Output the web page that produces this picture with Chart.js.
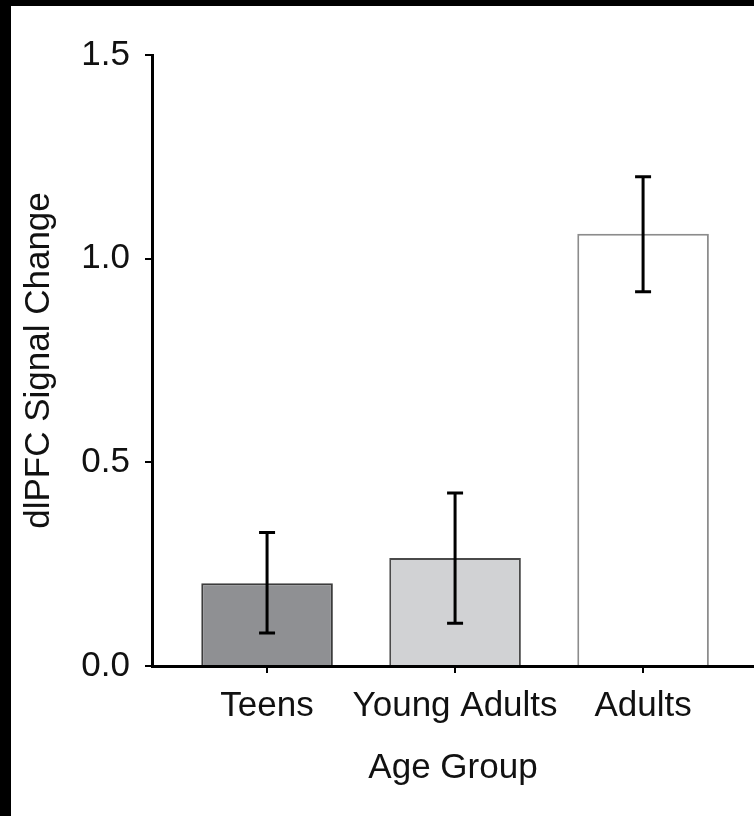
<!DOCTYPE html>
<html>
<head>
<meta charset="utf-8">
<script src="https://cdn.jsdelivr.net/npm/chart.js@4.4.1/dist/chart.umd.min.js"></script>
<style>
  html, body { margin: 0; padding: 0; background: #000; }
  body { width: 754px; height: 816px; position: relative; overflow: hidden; }
  #chart { position: absolute; left: 11px; top: 6px; background: #fff; }
</style>
</head>
<body>
<canvas id="chart" width="743" height="810"></canvas>
<script>
    // data
    const categories = ['Teens', 'Young Adults', 'Adults'];
    const meanValues = [0.203, 0.265, 1.061];
    const errLow = [0.081, 0.105, 0.919];
    const errHigh = [0.328, 0.425, 1.201];
    const yTicks = [0, 0.5, 1.0, 1.5];

    const FONT = '"Liberation Sans Narrow", "Arial Narrow", "Liberation Sans", Arial, sans-serif';
    Chart.defaults.font.family = FONT;
    Chart.defaults.font.size = 35;
    Chart.defaults.color = '#111';

    // Error bars drawn from the arrays through the scales
    const errorBars = {
      id: 'errorBars',
      afterDatasetsDraw(chart) {
        const ctx = chart.ctx;
        const xs = chart.scales.x, ys = chart.scales.y;
        ctx.save();
        ctx.strokeStyle = '#000';
        ctx.lineWidth = 3;
        categories.forEach((c, i) => {
          const x = xs.getPixelForValue(i + 1);
          const lo = ys.getPixelForValue(errLow[i]);
          const hi = ys.getPixelForValue(errHigh[i]);
          ctx.beginPath();
          ctx.moveTo(x, lo); ctx.lineTo(x, hi);
          ctx.moveTo(x - 8, lo); ctx.lineTo(x + 8, lo);
          ctx.moveTo(x - 8, hi); ctx.lineTo(x + 8, hi);
          ctx.stroke();
        });
        ctx.restore();
      }
    };

    const chart = new Chart(document.getElementById('chart'), {
      type: 'bar',
      data: {
        datasets: [{
          data: meanValues.map((v, i) => ({ x: i + 1, y: v })),
          backgroundColor: ['#8f9093', '#d1d2d4', '#ffffff'],
          borderColor: ['#3c3c3c', '#4a4a4a', '#8c8c8c'],
          borderWidth: 2,
          categoryPercentage: 1,
          barPercentage: 0.70
        }]
      },
      options: {
        responsive: false,
        animation: false,
        layout: { padding: { top: 49, left: 0, right: 0, bottom: 0 } },
        plugins: { legend: { display: false }, tooltip: { enabled: false } },
        scales: {
          x: {
            type: 'linear',
            offset: false,
            min: 0.388,
            max: 3.59,
            afterBuildTicks: axis => { axis.ticks = categories.map((c, i) => ({ value: i + 1 })); },
            afterFit: scale => { scale.height = 150; },
            ticks: {
              padding: 12,
              maxRotation: 0,
              autoSkip: false,
              callback: v => categories[v - 1] || ''
            },
            grid: { offset: false, drawOnChartArea: false, drawTicks: true, tickLength: 7, color: '#000', lineWidth: 2 },
            border: { display: true, color: '#000', width: 3 },
            title: { display: true, text: 'Age Group', color: '#111', padding: { top: 0, bottom: 27 } }
          },
          y: {
            min: 0,
            max: 1.5,
            afterBuildTicks: axis => { axis.ticks = yTicks.map(v => ({ value: v })); },
            afterFit: scale => { scale.width = 141; },
            ticks: {
              padding: 15,
              callback: v => Number(v).toFixed(1)
            },
            grid: { drawOnChartArea: false, drawTicks: true, tickLength: 7, color: '#000', lineWidth: 2 },
            border: { display: true, color: '#000', width: 3 },
            title: { display: true, text: 'dlPFC Signal Change', color: '#111', padding: { top: 7, bottom: 0 } }
          }
        }
      },
      plugins: [errorBars]
    });
</script>
</body>
</html>
